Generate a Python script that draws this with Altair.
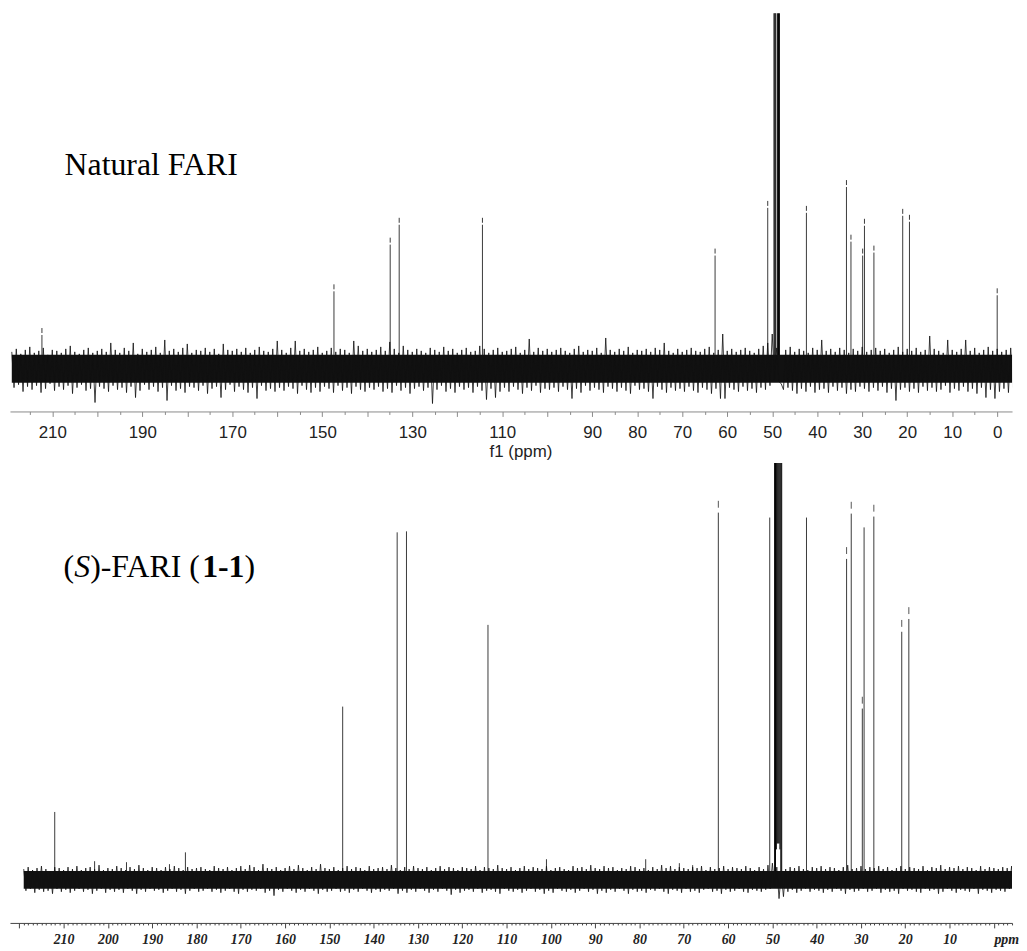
import altair as alt
import pandas as pd

# ---------------- data ----------------
# Top spectrum (Natural FARI): peak positions (ppm) and heights above baseline (a.u.)
top_peak_ppm = [212.3, 147.4, 134.9, 132.9, 114.4, 62.7, 51.0, 42.4, 33.5, 32.5,
                29.9, 29.5, 27.4, 21.0, 19.5, 0.0]
top_peak_h = [40, 84, 131, 151, 151, 120, 168, 163, 189, 134,
              120, 150, 123, 160, 154, 80]
# solvent (CD3OD) multiplet lines, clipped at the top
top_solvent_ppm = [49.6, 49.4, 49.2, 48.8, 48.6, 48.4]
top_solvent_base = [-10, -10, -10, -10, -10, -10]
top_solvent_h = [900, 900, 900, 900, 900, 900]

# baseline noise envelope, one pair per ppm from 219 down to -3
top_noise_start = 219
top_noise_up = [
    16, 19, 14, 18, 21, 15, 17, 20, 13, 18,
    17, 15, 19, 22, 16, 14, 18, 20, 15, 17,
    19, 16, 25, 18, 15, 20, 17, 25, 14, 19,
    16, 18, 21, 15, 28, 17, 19, 16, 20, 24,
    15, 18, 17, 20, 16, 19, 14, 24, 18, 17,
    19, 16, 20, 15, 18, 21, 17, 16, 19, 27,
    18, 15, 20, 27, 17, 19, 16, 18, 21, 15,
    17, 20, 16, 19, 18, 15, 27, 22, 17, 19,
    16, 18, 21, 17, 26, 19, 15, 22, 18, 16,
    19, 17, 15, 20, 18, 16, 21, 17, 19, 15,
    18, 20, 16, 17, 22, 19, 15, 18, 20, 16,
    17, 19, 21, 15, 18, 29, 16, 20, 17, 19,
    16, 18, 20, 17, 15, 19, 22, 16, 18, 17,
    20, 15, 30, 18, 16, 19, 17, 21, 15, 18,
    17, 19, 16, 20, 18, 25, 17, 15, 19, 16,
    18, 20, 17, 16, 19, 21, 15, 18, 34, 17,
    19, 16, 18, 20, 17, 15, 19, 22, 25, 34,
    20, -16, 18, 21, 16, 19, 17, 15, 20, 18,
    28, 17, 19, 16, 20, 18, 15, 19, 17, 21,
    16, 18, 20, 17, 19, 15, 18, 21, 16, 19,
    17, 20, 16, 18, 32, 19, 17, 15, 28, 18,
    16, 19, 28, 17, 20, 15, 18, 21, 17, 19,
    16, 18, 20,
]
top_noise_down = [
    -20, -17, -24, -19, -22, -18, -25, -21, -16, -23,
    -19, -22, -18, -26, -20, -17, -23, -21, -35, -19,
    -21, -24, -18, -22, -20, -25, -19, -30, -23, -17,
    -22, -19, -24, -20, -33, -18, -23, -21, -25, -19,
    -20, -23, -18, -26, -21, -19, -30, -22, -17, -24,
    -19, -22, -25, -20, -31, -18, -23, -21, -24, -20,
    -23, -19, -21, -26, -18, -22, -25, -20, -24, -19,
    -21, -25, -18, -23, -20, -26, -19, -22, -24, -20,
    -22, -19, -24, -21, -25, -18, -23, -20, -26, -21,
    -19, -23, -20, -36, -22, -18, -24, -21, -25, -19,
    -22, -20, -25, -19, -23, -32, -21, -30, -24, -20,
    -24, -19, -22, -26, -20, -23, -18, -25, -21, -22,
    -20, -24, -19, -22, -31, -21, -25, -18, -23, -20,
    -22, -25, -19, -21, -24, -20, -23, -26, -18, -22,
    -21, -24, -31, -19, -22, -25, -20, -23, -21, -24,
    -19, -23, -25, -20, -22, -26, -21, -31, -31, -20,
    -22, -24, -19, -23, -21, -25, -20, -22, -18, -12,
    -14, -22, -20, -23, -26, -21, -24, -19, -25, -22,
    -21, -25, -19, -23, -20, -26, -22, -24, -19, -21,
    -24, -20, -23, -19, -25, -21, -33, -22, -20, -24,
    -21, -25, -19, -23, -20, -24, -22, -18, -25, -21,
    -23, -19, -24, -21, -26, -20, -30, -22, -31, -24,
    -21, -25, -20,
]
top_noise_core = [13, -15]

# Bottom spectrum ((S)-FARI (1-1))
bot_peak_ppm = [212.0, 203.0, 195.8, 186.1, 182.5, 147.0, 134.7, 132.6, 114.2, 101.0,
                78.6, 71.0, 68.0, 62.2, 50.6, 42.3, 33.25, 32.2, 29.7, 29.3,
                27.1, 20.8, 19.2]
bot_peak_h = [68, 18, 17, 15, 27, 175, 352, 353, 258, 20,
              20, 16, 14, 372, 367, 367, 325, 371, 173, 357,
              368, 251, 264]
# peaks that carry a small detached mark above their top
bot_marked_ppm = [62.2, 33.25, 32.2, 29.7, 27.1, 20.8, 19.2]
bot_solvent_ppm = [49.5, 49.3, 49.1, 48.9, 48.7, 48.5, 48.3, 48.1, 47.9]
bot_solvent_base = [0, 0, 30, 36, 36, 36, 30, 0, 0]
bot_solvent_h = [900, 900, 900, 900, 900, 900, 900, 900, 900]

bot_noise_start = 219
bot_noise_up = [
    10, 12, 9, 11, 13, 10, 8, 12, 11, 9,
    12, 10, 13, 9, 11, 12, 10, 14, 9, 11,
    10, 13, 11, 9, 12, 10, 14, 11, 9, 12,
    11, 9, 12, 10, 13, 11, 9, 12, 10, 11,
    12, 10, 9, 13, 11, 10, 12, 9, 11, 13,
    10, 14, 12, 9, 15, 11, 10, 12, 9, 11,
    13, 10, 14, 11, 9, 12, 10, 15, 11, 10,
    12, 9, 11, 13, 10, 12, 11, 9, 13, 10,
    11, 12, 10, 14, 11, 9, 12, 10, 13, 11,
    10, 12, 9, 11, 13, 10, 12, 11, 9, 12,
    11, 10, 13, 9, 12, 11, 10, 14, 11, 10,
    12, 9, 11, 13, 10, 12, 11, 10, 13, 9,
    11, 12, 10, 9, 13, 11, 12, 10, 14, 11,
    10, 13, 11, 12, 9, 11, 10, 13, 12, 10,
    11, 9, 12, 10, 14, 11, 13, 10, 12, 11,
    10, 12, 11, 13, 9, 12, 10, 11, 13, 10,
    12, 11, 10, 13, 11, 9, 12, 10, 14, 16,
    12, 6, 10, 12, 11, 13, 10, 9, 12, 11,
    13, 10, 12, 11, 9, 12, 14, 10, 11, 13,
    10, 12, 11, 13, 10, 12, 9, 11, 13, 10,
    12, 11, 10, 13, 9, 12, 11, 14, 10, 12,
    11, 13, 10, 12, 11, 9, 13, 10, 12, 11,
    10, 12, 11, 13,
]
bot_noise_down = [
    -12, -10, -14, -11, -13, -12, -15, -10, -13, -11,
    -14, -12, -10, -13, -11, -15, -12, -10, -14, -11,
    -13, -11, -14, -10, -12, -15, -11, -13, -10, -12,
    -11, -14, -12, -10, -13, -11, -15, -12, -10, -13,
    -12, -10, -13, -11, -14, -12, -10, -13, -15, -11,
    -13, -11, -12, -10, -14, -12, -17, -11, -13, -10,
    -12, -14, -11, -13, -10, -12, -15, -11, -13, -12,
    -10, -13, -12, -14, -11, -13, -10, -12, -14, -11,
    -13, -11, -12, -10, -15, -12, -14, -11, -13, -10,
    -12, -14, -11, -13, -10, -12, -16, -11, -14, -12,
    -11, -13, -10, -14, -12, -11, -13, -15, -10, -12,
    -13, -11, -14, -12, -10, -13, -11, -15, -12, -14,
    -10, -12, -13, -11, -14, -12, -10, -13, -11, -15,
    -12, -14, -11, -13, -10, -12, -15, -11, -13, -12,
    -14, -11, -12, -10, -13, -15, -11, -12, -14, -10,
    -13, -12, -14, -11, -10, -13, -12, -15, -11, -13,
    -12, -10, -13, -14, -11, -12, -13, -11, -10, -9,
    -20, -18, -13, -11, -14, -12, -10, -13, -11, -12,
    -14, -11, -13, -10, -12, -15, -11, -13, -12, -10,
    -13, -12, -10, -14, -11, -13, -12, -15, -10, -12,
    -11, -13, -14, -10, -12, -11, -15, -13, -10, -12,
    -14, -11, -12, -13, -10, -15, -11, -12, -14, -11,
    -12, -13, -10, -14,
]
bot_noise_core = [8, -10]

top_label = "Natural FARI"
bot_label_parts = ["(", "S", ")-FARI (", "1-1", ")"]
bot_label_styles = [("normal", "normal"), ("italic", "normal"), ("normal", "normal"),
                    ("normal", "bold"), ("normal", "normal")]

top_major_labels = [210, 190, 170, 150, 130, 110, 90, 80, 70, 60, 50, 40, 30, 20, 10, 0]

# ---------------- layout / style constants ----------------
W = 1009
TOP_H = 401
BOT_H = 463
TOP_XDOM = [219.4, -3.3]
BOT_XDOM = [222.1, -4.1]
TOP_YDOM = [-44, 357]
BOT_YDOM = [-44.7, 422.3]
PEAK_COLOR = "#3a3a3a"
NOISE_COLOR = "#111111"


def noise_frame(start, up, down):
    rows = []
    for i, (u, d) in enumerate(zip(up, down)):
        p = start - i
        rows.append({"ppm": p, "h": u, "o": 2 * i})
        rows.append({"ppm": p - 0.5, "h": d, "o": 2 * i + 1})
    return pd.DataFrame(rows)


def core_frame(start, n, core):
    return pd.DataFrame({"ppm": [start - i * 0.5 for i in range(2 * n)],
                         "hi": core[0], "lo": core[1]})


# ---------------- top panel ----------------
labels_js = "[" + ",".join(str(v) for v in top_major_labels) + "]"
top_axis = alt.Axis(
    values=list(range(215, -1, -5)),
    format="d",
    labelExpr=f"indexof({labels_js}, datum.value) >= 0 ? datum.label : ''",
    tickSize={"condition": {"test": "datum.value % 10 == 0", "value": 5}, "value": 3},
    labelOverlap=False,
    labelFont="Liberation Sans", labelFontSize=17, labelColor="#222222",
    labelPadding=8,
    domainColor="#8a8a8a", tickColor="#8a8a8a", grid=False,
    title="f1 (ppm)", titleFont="Liberation Sans", titleFontSize=17,
    titleFontWeight="normal", titleColor="#222222", titlePadding=3, titleX=514,
)
tx = alt.X("ppm:Q", scale=alt.Scale(domain=TOP_XDOM, nice=False, zero=False), axis=top_axis)
tys = alt.Scale(domain=TOP_YDOM, nice=False, zero=False)

top_noise = noise_frame(top_noise_start, top_noise_up, top_noise_down)
top_core = core_frame(top_noise_start, len(top_noise_up), top_noise_core)
tp = pd.DataFrame({"ppm": top_peak_ppm, "h": top_peak_h})
tp_low = pd.DataFrame({"ppm": tp.ppm, "lo": 0, "hi": tp.h - 7})
tp_high = pd.DataFrame({"ppm": tp.ppm, "lo": tp.h - 5, "hi": tp.h})
tsol = pd.DataFrame({"ppm": top_solvent_ppm, "lo": top_solvent_base, "hi": top_solvent_h})

t_core = alt.Chart(top_core).mark_area(color=NOISE_COLOR, clip=True).encode(
    x=tx, y=alt.Y("hi:Q", scale=tys, axis=None), y2="lo:Q")
t_noise = alt.Chart(top_noise).mark_line(color=NOISE_COLOR, strokeWidth=0.8, clip=True).encode(
    x=tx, y=alt.Y("h:Q", scale=tys, axis=None), order="o:Q")
t_pk1 = alt.Chart(tp_low).mark_rule(color=PEAK_COLOR, strokeWidth=1, clip=True).encode(
    x=tx, y=alt.Y("lo:Q", scale=tys, axis=None), y2="hi:Q")
t_pk2 = alt.Chart(tp_high).mark_rule(color=PEAK_COLOR, strokeWidth=1, clip=True).encode(
    x=tx, y=alt.Y("lo:Q", scale=tys, axis=None), y2="hi:Q")
t_sol = alt.Chart(tsol).mark_rule(color="black", strokeWidth=1, clip=True).encode(
    x=tx, y=alt.Y("lo:Q", scale=tys, axis=None), y2="hi:Q")
t_txt = alt.Chart(pd.DataFrame({"t": [top_label]})).mark_text(
    align="left", baseline="alphabetic", font="Liberation Serif", fontSize=32, color="black"
).encode(x=alt.value(55), y=alt.value(163), text="t:N")

top = alt.layer(t_pk1, t_pk2, t_sol, t_core, t_noise, t_txt).properties(width=W, height=TOP_H)

# ---------------- bottom panel ----------------
bot_axis = alt.Axis(
    values=list(range(220, -5, -1)),
    format="d",
    labelExpr="datum.value == 0 ? 'ppm' : ((datum.value % 10 == 0 && datum.value > 0 && datum.value <= 210) ? datum.label : '')",
    labelAlign={"condition": {"test": "datum.value == 0", "value": "left"}, "value": "center"},
    tickSize={"condition": {"test": "datum.value % 10 == 0", "value": 5}, "value": 2},
    labelOverlap=False,
    labelFont="Liberation Serif", labelFontSize=14, labelFontStyle="italic",
    labelFontWeight="bold", labelColor="#222222", labelPadding=5,
    domainColor="#444444", tickColor="#444444", grid=False, title=None,
)
bx = alt.X("ppm:Q", scale=alt.Scale(domain=BOT_XDOM, nice=False, zero=False), axis=bot_axis)
bys = alt.Scale(domain=BOT_YDOM, nice=False, zero=False)

bot_noise = noise_frame(bot_noise_start, bot_noise_up, bot_noise_down)
bot_core = core_frame(bot_noise_start, len(bot_noise_up), bot_noise_core)
bp = pd.DataFrame({"ppm": bot_peak_ppm, "lo": 0, "hi": bot_peak_h})
bm = bp[bp.ppm.isin(bot_marked_ppm)]
bmark = pd.DataFrame({"ppm": bm.ppm, "lo": bm.hi + 5, "hi": bm.hi + 12})
bsol = pd.DataFrame({"ppm": bot_solvent_ppm, "lo": bot_solvent_base, "hi": bot_solvent_h})

b_core = alt.Chart(bot_core).mark_area(color=NOISE_COLOR, clip=True).encode(
    x=bx, y=alt.Y("hi:Q", scale=bys, axis=None), y2="lo:Q")
b_noise = alt.Chart(bot_noise).mark_line(color=NOISE_COLOR, strokeWidth=0.8, clip=True).encode(
    x=bx, y=alt.Y("h:Q", scale=bys, axis=None), order="o:Q")
b_pk = alt.Chart(bp).mark_rule(color=PEAK_COLOR, strokeWidth=1, clip=True).encode(
    x=bx, y=alt.Y("lo:Q", scale=bys, axis=None), y2="hi:Q")
b_mk = alt.Chart(bmark).mark_rule(color="#555555", strokeWidth=1, clip=True).encode(
    x=bx, y=alt.Y("lo:Q", scale=bys, axis=None), y2="hi:Q")
b_sol = alt.Chart(bsol).mark_rule(color="black", strokeWidth=1, clip=True).encode(
    x=bx, y=alt.Y("lo:Q", scale=bys, axis=None), y2="hi:Q")

label_x = [54, 64.7, 80.7, 193.5, 236.2]
b_txt = []
for part, (style, weight), xpos in zip(bot_label_parts, bot_label_styles, label_x):
    b_txt.append(
        alt.Chart(pd.DataFrame({"t": [part]})).mark_text(
            align="left", baseline="alphabetic", font="Liberation Serif", fontSize=32,
            fontStyle=style, fontWeight=weight, color="black"
        ).encode(x=alt.value(xpos), y=alt.value(115), text="t:N")
    )

bottom = alt.layer(b_pk, b_mk, b_sol, b_core, b_noise, *b_txt).properties(width=W, height=BOT_H)

chart = alt.vconcat(top, bottom, spacing=4).configure_view(stroke=None).properties(
    padding={"left": 2, "top": 2, "right": 0, "bottom": 0}
)

chart.save("out.html", embed_options={"renderer": "svg", "actions": False})
